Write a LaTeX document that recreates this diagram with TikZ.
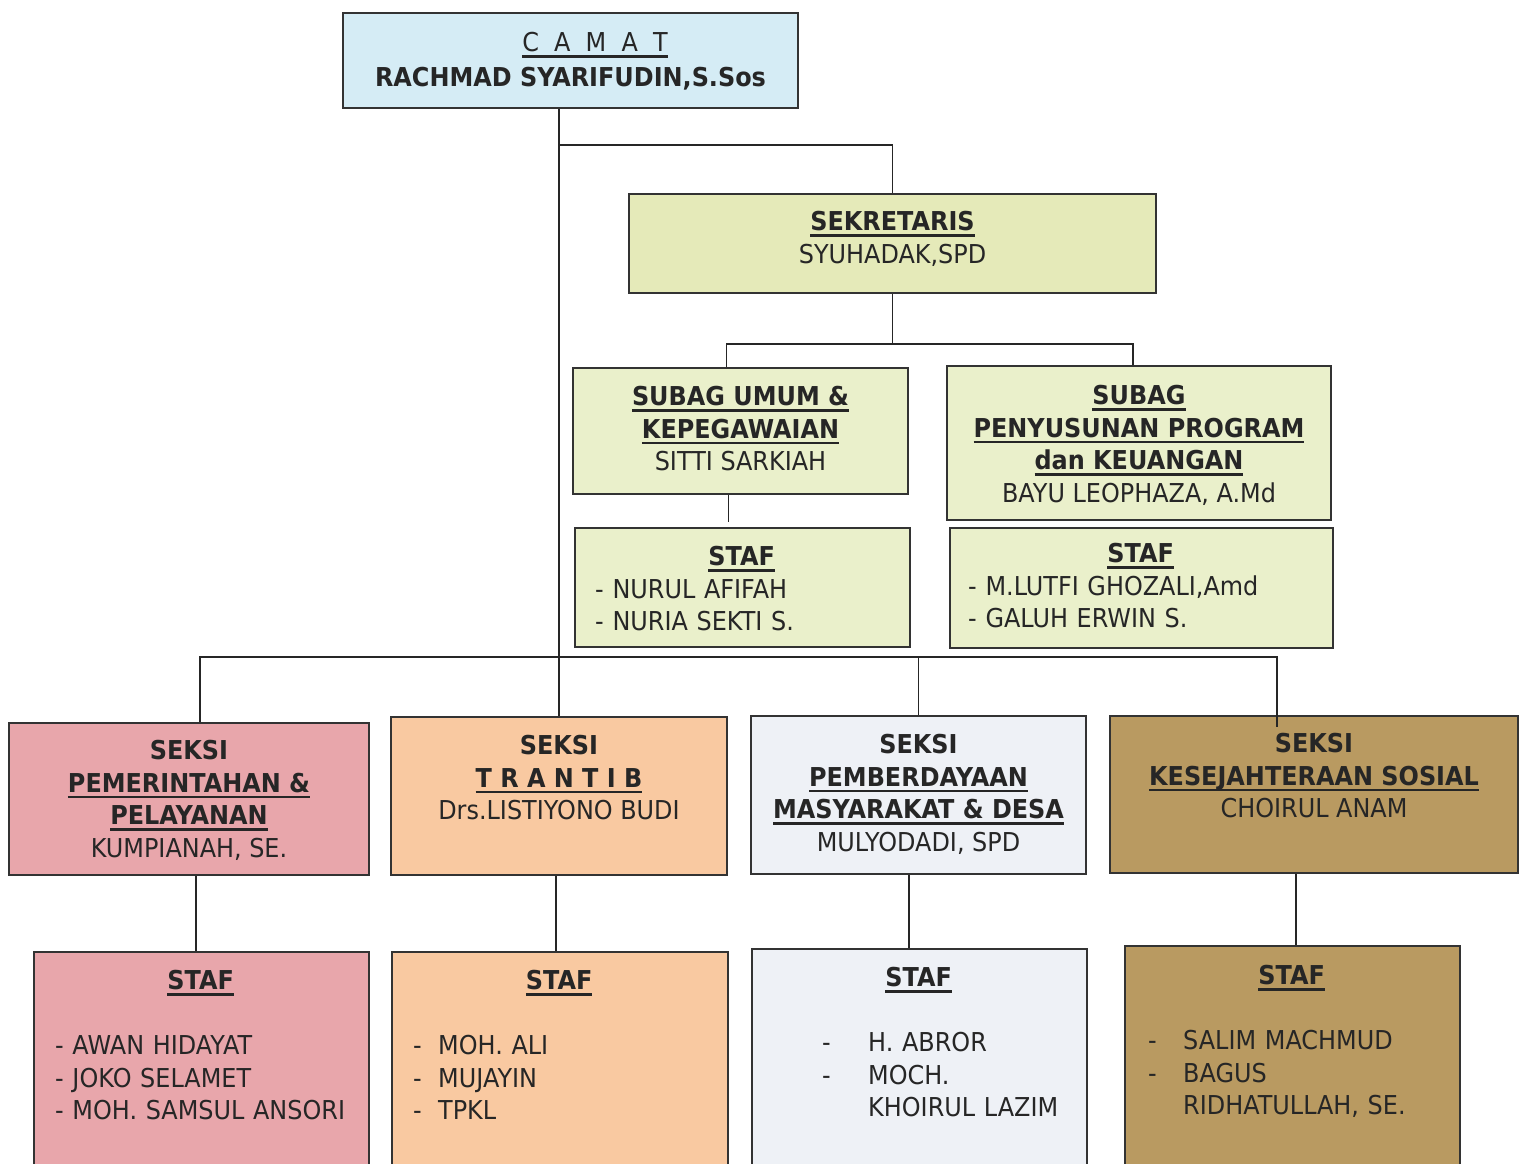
\documentclass[tikz,border=0pt]{standalone}
\usepackage{fontspec}
\setmainfont{DejaVu Sans}[FakeStretch=0.92]
\usetikzlibrary{positioning,calc}
\definecolor{camatblue}{HTML}{D5ECF5}
\definecolor{sekrgreen}{HTML}{E5EAB9}
\definecolor{subaggreen}{HTML}{EAF0CB}
\definecolor{pempink}{HTML}{E8A6AB}
\definecolor{trantibpeach}{HTML}{F9C9A1}
\definecolor{pmdwhite}{HTML}{EEF1F6}
\definecolor{kesostan}{HTML}{B99A61}
\newcommand\uln[1]{\setbox0\hbox{#1}\rlap{\vrule height -3.5pt depth 6pt width \wd0}\box0}
\newcommand\hd[1]{\uln{\textbf{#1}}}
\newcommand\dsh[1]{\makebox[#1][l]{-}}
\tikzset{
  unit/.style 2 args={draw=black!80, line width=2pt, minimum width=#1pt, minimum height=#2pt, inner sep=0pt, anchor=north west},
  txt/.style={inner sep=0pt, align=center, text=black!85},
  list/.style={inner sep=0pt, align=left, text=black!85},
  link/.style={draw=black!85, line width=1.5pt},
}
\begin{document}
\begin{tikzpicture}[x=1pt, y=-1pt, font=\fontsize{26}{32.5}\selectfont]
  \path[use as bounding box, fill=white] (0,0) rectangle (1520,1163);
  \clip (0,0) rectangle (1520,1163);

  \node[unit={455}{95}, fill=camatblue] (camat) at (342,12) {};
  \node[unit={527}{99}, fill=sekrgreen] (sekr) at (628,193) {};
  \node[unit={335}{126}, fill=subaggreen] (umum) at (572,367) {};
  \node[unit={384}{154}, fill=subaggreen] (ppk) at (946,365) {};
  \node[unit={335}{119}, fill=subaggreen] (umumstaf) at (574,527) {};
  \node[unit={383}{120}, fill=subaggreen] (ppkstaf) at (949,527) {};
  \node[unit={360}{152}, fill=pempink] (pem) at (8,722) {};
  \node[unit={336}{158}, fill=trantibpeach] (trantib) at (390,716) {};
  \node[unit={335}{158}, fill=pmdwhite] (pmd) at (750,715) {};
  \node[unit={408}{157}, fill=kesostan] (kesos) at (1109,715) {};
  \node[unit={335}{260}, fill=pempink] (pemstaf) at (33,951) {};
  \node[unit={336}{260}, fill=trantibpeach] (trantibstaf) at (391,951) {};
  \node[unit={335}{260}, fill=pmdwhite] (pmdstaf) at (751,948) {};
  \node[unit={335}{260}, fill=kesostan] (kesosstaf) at (1124,945) {};

  \node[txt, font=\fontsize{26}{35}\selectfont, below=20pt of camat.north] (camattxt) {\hspace*{49pt}\uln{C~~A~~M~~A~~T}\\\textbf{RACHMAD SYARIFUDIN,S.Sos}};
  \node[txt, below=18pt of sekr.north] (sekrtxt) {\hd{SEKRETARIS}\\SYUHADAK,SPD};
  \node[txt, below=19pt of umum.north] (umumtxt) {\hd{SUBAG UMUM \&}\\\hd{KEPEGAWAIAN}\\SITTI SARKIAH};
  \node[txt, below=20pt of ppk.north] (ppktxt) {\hd{SUBAG}\\\hd{PENYUSUNAN PROGRAM}\\\hd{dan KEUANGAN}\\BAYU LEOPHAZA, A.Md};
  \node[list, text width=293pt, below right=19pt and 21pt of umumstaf.north west] (umumstaftxt) {\hfill\hd{STAF}\hfill\null\\- NURUL AFIFAH\\- NURIA SEKTI S.};
  \node[list, text width=345pt, below right=16pt and 19pt of ppkstaf.north west] (ppkstaftxt) {\hfill\hd{STAF}\hfill\null\\- M.LUTFI GHOZALI,Amd\\- GALUH ERWIN S.};
  \node[txt, below=18pt of pem.north] (pemtxt) {\textbf{SEKSI}\\\hd{PEMERINTAHAN \&}\\\hd{PELAYANAN}\\KUMPIANAH, SE.};
  \node[txt, below=19pt of trantib.north] (trantibtxt) {\textbf{SEKSI}\\\hd{T~R~A~N~T~I~B}\\Drs.LISTIYONO BUDI};
  \node[txt, below=19pt of pmd.north] (pmdtxt) {\textbf{SEKSI}\\\hd{PEMBERDAYAAN}\\\hd{MASYARAKAT \& DESA}\\MULYODADI, SPD};
  \node[txt, below=18pt of kesos.north] (kesostxt) {\textbf{SEKSI}\\\hd{KESEJAHTERAAN SOSIAL}\\CHOIRUL ANAM};
  \node[list, text width=291pt, below right=19pt and 22pt of pemstaf.north west] (pemstaftxt) {\hfill\hd{STAF}\hfill\null\\[32.5pt]- AWAN HIDAYAT\\- JOKO SELAMET\\- MOH. SAMSUL ANSORI};
  \node[list, text width=292pt, below right=19pt and 22pt of trantibstaf.north west] (trantibstaftxt) {\hfill\hd{STAF}\hfill\null\\[32.5pt]\dsh{25pt}MOH. ALI\\\dsh{25pt}MUJAYIN\\\dsh{25pt}TPKL};
  \node[list, text width=193pt, below right=19pt and 71pt of pmdstaf.north west] (pmdstaftxt) {\hfill\hd{STAF}\hfill\null\\[32.5pt]\dsh{46pt}H. ABROR\\\dsh{46pt}MOCH.\\\hspace*{46pt}\mbox{KHOIRUL LAZIM}};
  \node[list, text width=287pt, below right=20pt and 24pt of kesosstaf.north west] (kesosstaftxt) {\hfill\hd{STAF}\hfill\null\\[32.5pt]\dsh{35pt}SALIM MACHMUD\\\dsh{35pt}BAGUS\\\hspace*{35pt}RIDHATULLAH, SE.};

  \draw[link] (camat.south -| trantib.north) -- (trantib.north);
  \draw[link] (camat.south -| trantib.north) ++(0,36) -| (sekr.north);
  \draw[link] (sekr.south) -- ++(0,50) coordinate (sekrfork);
  \draw[link] ($(umum.north)+(-14,0)$) |- (sekrfork) -| ($(ppk.north)+(-6,0)$);
  \draw[link] ($(umum.south)+(-12,0)$) -- ($(umumstaf.north)+(-14,-5)$);
  \draw[link] ($(pem.north)+(11,0)$) |- ($(kesos.north)+(-37,-58)$) -- ($(kesos.north)+(-37,12)$);
  \draw[link] (pmd.north) -- ++(0,-58);
  \draw[link] ($(pem.south)+(7,0)$) -- ($(pemstaf.north)+(-5.5,0)$);
  \draw[link] ($(trantib.south)+(-3,0)$) -- ($(trantibstaf.north)+(-4,0)$);
  \draw[link] ($(pmd.south)+(-9.5,0)$) -- ($(pmdstaf.north)+(-10.5,0)$);
  \draw[link] ($(kesos.south)+(-18,0)$) -- ($(kesosstaf.north)+(3.5,0)$);
\end{tikzpicture}
\end{document}
